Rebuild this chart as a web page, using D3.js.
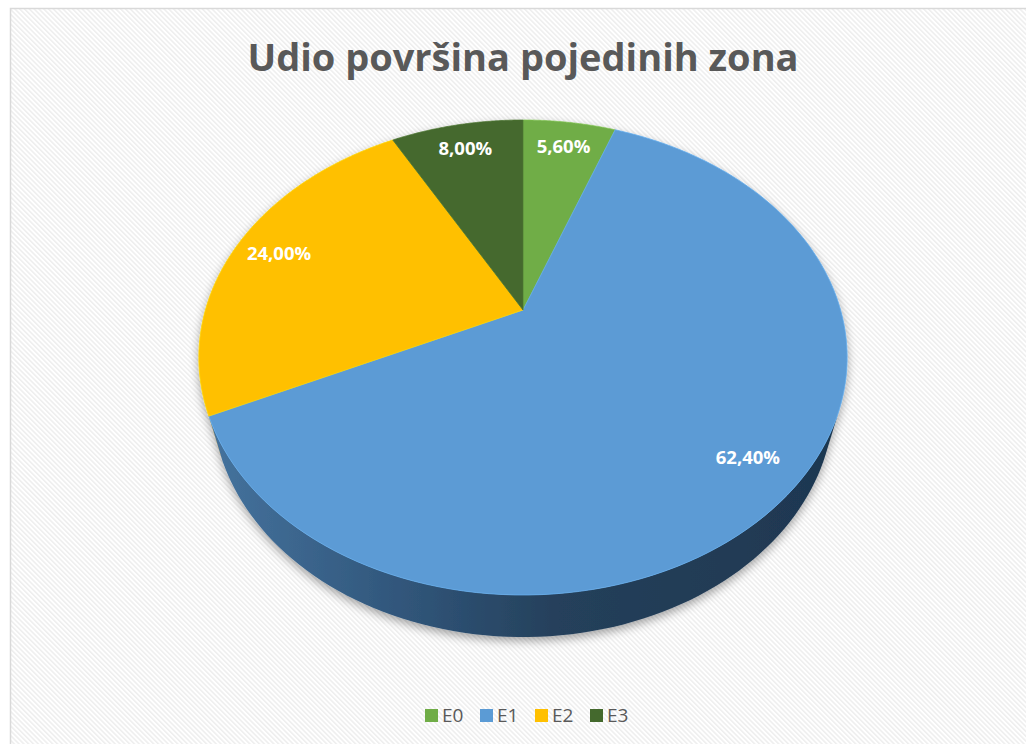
<!DOCTYPE html>
<html>
<head>
<meta charset="utf-8">
<script src="https://cdn.jsdelivr.net/npm/d3@7"></script>
<style>
  body { margin: 0; background: #fff; }
  svg { display: block; }
</style>
</head>
<body>
<div id="chart"></div>
<script>
const categories = ["E0", "E1", "E2", "E3"];
const shares = [5.6, 62.4, 24.0, 8.0];
const labels = ["5,60%", "62,40%", "24,00%", "8,00%"];
const colors = ["#70ad47", "#5b9bd5", "#ffc000", "#44692d"];

const width = 1026, height = 744;

const svg = d3.select("#chart").append("svg")
  .attr("width", width)
  .attr("height", height);

const defs = svg.append("defs");

const pat = defs.append("pattern")
  .attr("id", "hatch")
  .attr("patternUnits", "userSpaceOnUse")
  .attr("width", 3.4)
  .attr("height", 3.4)
  .attr("patternTransform", "rotate(-45)");
pat.append("rect").attr("width", 3.4).attr("height", 3.4).attr("fill", "#ffffff");
pat.append("rect").attr("width", 1.5).attr("height", 3.4).attr("fill", "#eeeeee");

const wallGrad = defs.append("linearGradient")
  .attr("id", "wall")
  .attr("gradientUnits", "userSpaceOnUse")
  .attr("x1", 200).attr("x2", 850).attr("y1", 0).attr("y2", 0);
[[0, "#46749f"], [0.3, "#31577c"], [0.55, "#25405b"], [1, "#1e3750"]].forEach(s => {
  wallGrad.append("stop").attr("offset", s[0]).attr("stop-color", s[1]);
});

const shadow = defs.append("filter")
  .attr("id", "shadow")
  .attr("x", "-10%").attr("y", "-10%").attr("width", "120%").attr("height", "130%");
shadow.append("feDropShadow")
  .attr("dx", 0).attr("dy", 4).attr("stdDeviation", 5)
  .attr("flood-color", "#000").attr("flood-opacity", 0.35);

// chart area
svg.append("rect")
  .attr("x", 10.5).attr("y", 8.5)
  .attr("width", 1040).attr("height", 760)
  .attr("fill", "url(#hatch)")
  .attr("stroke", "#d9d9d9")
  .attr("stroke-width", 1.5);

svg.append("text")
  .attr("x", 523)
  .attr("y", 71)
  .attr("text-anchor", "middle")
  .attr("font-family", "'Open Sans', sans-serif")
  .attr("font-weight", "bold")
  .attr("font-size", 38)
  .attr("fill", "#595959")
  .text("Udio površina pojedinih zona");

// perspective projection of a disk lying flat, seen from above at an angle
const cx = 523, cy = 310;
const alpha = 45 * Math.PI / 180;
const sa = Math.sin(alpha), ca = Math.cos(alpha);
const dist = 5 * ca;
const focal = 1140 * ca / sa;
const squeeze = 0.985;
const thick = 0.207;

function project(theta, r, yw) {
  const x = r * Math.sin(theta), z = r * Math.cos(theta);
  const depth = dist - yw * sa + z * ca;
  const up = yw * ca + z * sa;
  return [cx + squeeze * focal * x / depth, cy - focal * up / depth];
}

const pie = d3.pie().sort(null).value(d => d)
  .startAngle(0).endAngle(2 * Math.PI);
const arcs = pie(shares);

// silhouette of the side wall
const silA = Math.acos(-1 / (dist * ca));
const silB = 2 * Math.PI - silA;

const line = d3.line();
const pieG = svg.append("g").attr("filter", "url(#shadow)");

arcs.forEach((a, i) => {
  const s = Math.max(a.startAngle, silA), e = Math.min(a.endAngle, silB);
  if (e <= s) return;
  const n = 80;
  const top = d3.range(n + 1).map(k => project(s + (e - s) * k / n, 1, 0));
  const bot = d3.range(n + 1).map(k => project(e - (e - s) * k / n, 1, -thick));
  pieG.append("path")
    .attr("d", line(top.concat(bot)) + "Z")
    .attr("fill", i === 1 ? "url(#wall)" : d3.color(colors[i]).darker(1.2));
});

arcs.forEach((a, i) => {
  const n = 120;
  const pts = [project(0, 0, 0)].concat(
    d3.range(n + 1).map(k => project(a.startAngle + (a.endAngle - a.startAngle) * k / n, 1, 0)));
  pieG.append("path")
    .attr("d", line(pts) + "Z")
    .attr("fill", colors[i])
    .attr("stroke", d3.color(colors[i]).brighter(0.3))
    .attr("stroke-width", 0.8);
});

arcs.forEach((a, i) => {
  const p = project((a.startAngle + a.endAngle) / 2, 0.85, 0);
  svg.append("text")
    .attr("x", p[0])
    .attr("y", p[1])
    .attr("dy", "0.35em")
    .attr("text-anchor", "middle")
    .attr("font-family", "'Open Sans', sans-serif")
    .attr("font-weight", "bold")
    .attr("font-size", 18.5)
    .attr("fill", "#ffffff")
    .text(labels[i]);
});

// legend
const legend = svg.append("g").attr("transform", "translate(425,715.5)");
const item = legend.selectAll("g").data(categories).join("g")
  .attr("transform", (d, i) => `translate(${i * 55},0)`);
item.append("rect")
  .attr("x", 0).attr("y", -6.5)
  .attr("width", 13).attr("height", 13)
  .attr("fill", (d, i) => colors[i]);
item.append("text")
  .attr("x", 17).attr("y", 0)
  .attr("dy", "0.36em")
  .attr("font-family", "'Open Sans', sans-serif")
  .attr("font-size", 19)
  .attr("fill", "#595959")
  .text(d => d);
</script>
</body>
</html>
